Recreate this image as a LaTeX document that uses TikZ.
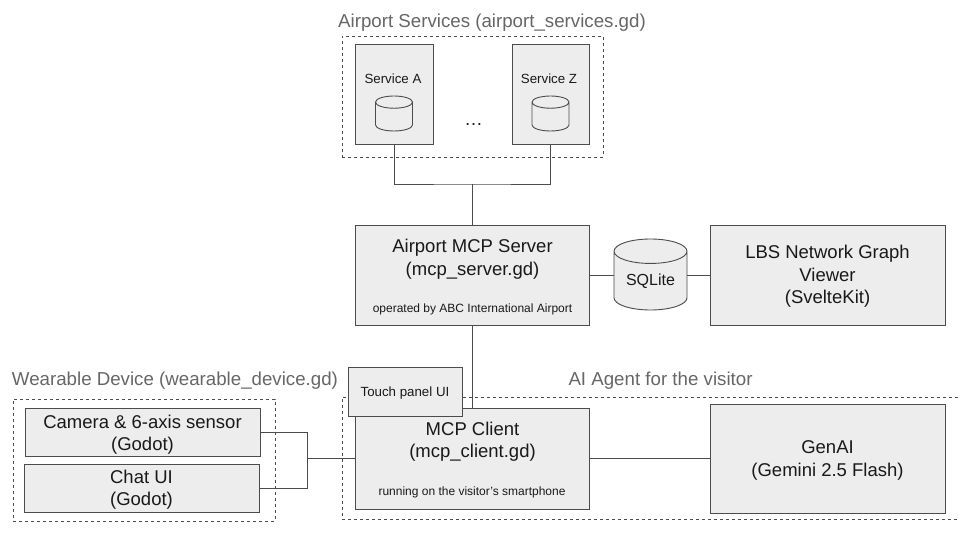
\documentclass[tikz,border=0pt]{standalone}
\usepackage{fontspec}
\setmainfont{Liberation Sans}
\usetikzlibrary{shapes.geometric}

\tikzset{
    box/.style = {draw = black!70, fill = black!7, line width = 0.9pt, inner sep = 0pt},
    group/.style = {draw = black!70, dashed, line width = 0.8pt, inner sep = 0pt},
    grouplabel/.style = {text = black!60, font = \fontsize{18.7}{22}\selectfont, inner sep = 0pt},
    bigtext/.style = {font = \fontsize{18.5}{22.5}\selectfont, text = black!90, inner sep = 0pt, align = center},
    smalltext/.style = {font = \fontsize{12}{14}\selectfont, text = black!90, inner sep = 0pt},
    midtext/.style = {font = \fontsize{13.3}{16}\selectfont, text = black!90, inner sep = 0pt},
    link/.style = {draw = black!70, line width = 0.9pt},
    store/.style = {cylinder, shape border rotate = 90, draw = black!70, fill = black!7, line width = 0.9pt, inner sep = 0pt, aspect = 0.5, anchor = shape center}
}

\begin{document}
\begin{tikzpicture}[x = 1pt, y = -1pt]
    \useasboundingbox (0,0) rectangle (960,540);

    \node [group, minimum width = 261pt, minimum height = 121pt] (servicesgroup) at (472.5,96.5) {};
    \node [group, minimum width = 262pt, minimum height = 122pt] (wearablegroup) at (144,460) {};
    \node [group, minimum width = 622pt, minimum height = 122pt] (agentgroup) at (653,458) {};

    \node [grouplabel] (serviceslabel) at (492,23) {Airport Services (airport\_services.gd)};
    \node [grouplabel] (wearablelabel) at (175,381) {Wearable Device (wearable\_device.gd)};
    \node [grouplabel] (agentlabel) at (660.5,381) {AI Agent for the visitor};

    \node [box, minimum width = 78pt, minimum height = 100pt] (serviceA) at (394,94) {};
    \node [box, minimum width = 77pt, minimum height = 100pt] (serviceZ) at (550.5,94) {};
    \node [midtext] (serviceAname) at (393,78.5) {Service A};
    \node [midtext] (serviceZname) at (549,78.5) {Service Z};
    \node [store, font = \fontsize{8}{9}\selectfont, minimum width = 37pt, minimum height = 35pt] (dbA) at (394,113.5) {\phantom{SQLite}};
    \node [store, font = \fontsize{8}{9}\selectfont, minimum width = 37pt, minimum height = 35pt] (dbZ) at (550.5,113.5) {\phantom{SQLite}};
    \node [bigtext] (dots) at (473.5,125) {…};

    \node [box, minimum width = 234pt, minimum height = 100pt] (server) at (472,275) {};
    \node [bigtext] (servername) at (472.5,259) {Airport MCP Server\\(mcp\_server.gd)};
    \node [smalltext] (serveroperator) at (472.5,309.5) {operated by ABC International Airport};

    \node [store, bigtext, font = \fontsize{16}{18}\selectfont, minimum width = 73pt, minimum height = 71pt] (sqlite) at (650.5,274.5) {SQLite};

    \node [box, minimum width = 235pt, minimum height = 100pt] (viewer) at (827.5,275) {};
    \node [bigtext] (viewername) at (827.5,276.5) {LBS Network Graph\\Viewer\\(SvelteKit)};

    \node [box, minimum width = 234pt, minimum height = 101pt] (client) at (472,458.5) {};
    \node [bigtext] (clientname) at (472.5,441.5) {MCP Client\\(mcp\_client.gd)};
    \node [smalltext] (clientnote) at (472,492) {running on the visitor's smartphone};

    \node [box, minimum width = 114pt, minimum height = 49pt] (touchpanel) at (405,391.5) {};
    \node [midtext] (touchpanelname) at (405,393) {Touch panel UI};

    \node [box, minimum width = 235pt, minimum height = 109pt] (genai) at (827.5,458.5) {};
    \node [bigtext] (genainame) at (827.5,460.5) {GenAI\\(Gemini 2.5 Flash)};

    \node [box, minimum width = 235pt, minimum height = 48pt] (camera) at (142.5,432) {};
    \node [bigtext] (cameraname) at (142.5,434.5) {Camera \& 6-axis sensor\\(Godot)};
    \node [box, minimum width = 235pt, minimum height = 48pt] (chat) at (141.5,488) {};
    \node [bigtext] (chatname) at (141.5,489.5) {Chat UI\\(Godot)};

    \coordinate (servicesjoin) at (472,184);
    \coordinate (wearablejoin) at (307,458.5);

    \draw [link] (serviceA.south) |- (servicesjoin) -| (serviceZ.south);
    \draw [link] (servicesjoin) -- (server.north);
    \draw [link] (server.east) -- (server.east -| sqlite.west);
    \draw [link] (viewer.west) -- (viewer.west -| sqlite.east);
    \draw [link] (server.south) -- (client.north);
    \draw [link] (client.east) -- (genai.west);
    \draw [link] (camera.east) -| (wearablejoin);
    \draw [link] (chat.east) -| (wearablejoin);
    \draw [link] (wearablejoin) -- (client.west);
\end{tikzpicture}
\end{document}
